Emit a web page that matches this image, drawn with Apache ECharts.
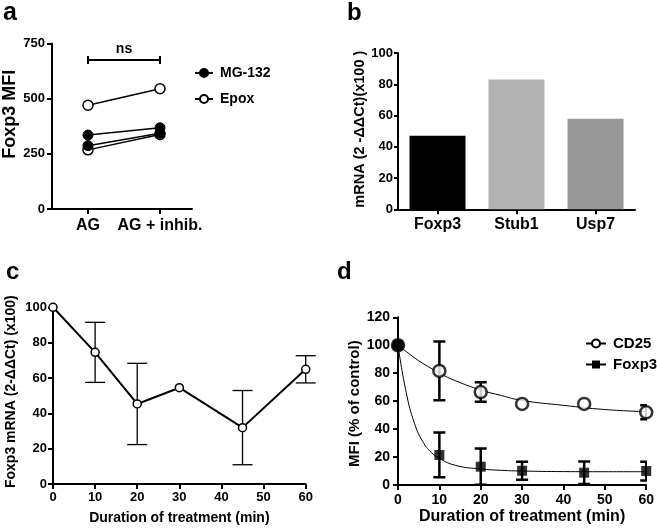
<!DOCTYPE html>
<html>
<head>
<meta charset="utf-8">
<script src="https://cdn.jsdelivr.net/npm/echarts@6/dist/echarts.min.js"></script>
<style>html,body{margin:0;padding:0;background:#fff}#c{width:657px;height:529px}</style>
</head>
<body>
<div id="c"></div>
<script>
// ---- Panel a ----
const aCategories = ['AG', 'AG + inhib.'];
const aMG1 = [335, 368];
const aMG2 = [287, 343];
const aEpox1 = [470, 545];
const aEpox2 = [268, 338];
const aBracket = [[0, 675, 1]];
const aBracketLabel = 'ns';
// ---- Panel b ----
const bCategories = ['Foxp3', 'Stub1', 'Usp7'];
const bValues = [47, 83, 58];
// ---- Panel c ----
const cTimes = [0, 10, 20, 30, 45, 60];
const cMeans = [100, 74.5, 45.3, 54.5, 31.9, 64.9];
const cErrs = [0, 17, 23, 0, 21, 7.7];
// ---- Panel d ----
const dTimes = [0, 10, 20, 30, 45, 60];
const dCD25 = [100, 81.6, 66.5, 58, 58, 52];
const dCD25Err = [0, 21, 7, 0, 0, 5];
const dFoxp3 = [100, 21.5, 13.1, 10.2, 8.8, 10];
const dFoxp3Err = [0, 16, 13, 6.5, 8, 6.7];
const dFitTimes = [0, 2, 4, 6, 8, 10, 14, 20, 25, 30, 40, 50, 60];
const dCD25Fit = [100, 95.5, 91, 87, 83.5, 80, 74.5, 68, 64, 60.5, 57, 54, 52.5];
const dFoxp3Fit = [100, 66, 44, 31, 23.5, 19, 14, 11.5, 10.5, 10, 9.6, 9.5, 9.5];

const FONT = "'Liberation Sans', Arial, sans-serif";
const AX = {color: '#000', width: 2};

function pairs(xs, ys) { return xs.map((x, i) => [x, ys[i]]); }
function triples(xs, ys, es) { return xs.map((x, i) => [x, ys[i], es[i]]); }

function errRender(capHalf, lw) {
  return function (params, api) {
    const x = api.value(0), y = api.value(1), e = api.value(2);
    if (!e) return null;
    const p1 = api.coord([x, y + e]);
    const p2 = api.coord([x, y - e]);
    const st = {stroke: '#000', lineWidth: lw};
    return {type: 'group', children: [
      {type: 'line', shape: {x1: p1[0], y1: p1[1], x2: p2[0], y2: p2[1]}, style: st},
      {type: 'line', shape: {x1: p1[0] - capHalf, y1: p1[1], x2: p1[0] + capHalf, y2: p1[1]}, style: st},
      {type: 'line', shape: {x1: p2[0] - capHalf, y1: p2[1], x2: p2[0] + capHalf, y2: p2[1]}, style: st}
    ]};
  };
}

function valueAxisY(gridIndex, min, max, interval, opts) {
  return Object.assign({
    type: 'value', gridIndex, min, max, interval,
    axisLine: {show: true, lineStyle: AX},
    axisTick: {show: true, inside: false, length: 5, lineStyle: AX},
    splitLine: {show: false},
    axisLabel: {color: '#000', fontFamily: FONT, fontWeight: 'bold', fontSize: 13, margin: 7},
    nameLocation: 'middle',
    nameTextStyle: {color: '#000', fontFamily: FONT, fontWeight: 'bold'}
  }, opts || {});
}

const option = {
  animation: false,
  backgroundColor: '#fff',
  textStyle: {fontFamily: FONT},
  grid: [
    {left: 52, top: 43.5, width: 144, height: 165.5},   // 0 a
    {left: 52, top: 43.5, width: 140, height: 165.5},   // 1 a axis line
    {left: 398, top: 53, width: 237, height: 156.3},    // 2 b
    {left: 53, top: 307.3, width: 252.7, height: 176.7},// 3 c
    {left: 398, top: 317.3, width: 248.7, height: 167.7}// 4 d
  ],
  xAxis: [
    {type: 'category', gridIndex: 0, data: aCategories, boundaryGap: true,
     axisLine: {show: false}, axisTick: {show: true, alignWithLabel: true, length: 5, lineStyle: AX},
     axisLabel: {color: '#000', fontFamily: FONT, fontWeight: 'bold', fontSize: 16, margin: 9, interval: 0, hideOverlap: false}},
    {type: 'value', gridIndex: 1, axisLine: {show: true, lineStyle: AX}, axisTick: {show: false},
     axisLabel: {show: false}, splitLine: {show: false}},
    {type: 'category', gridIndex: 2, data: bCategories, boundaryGap: true,
     axisLine: {show: true, lineStyle: AX}, axisTick: {show: true, alignWithLabel: true, length: 5, lineStyle: AX},
     axisLabel: {color: '#000', fontFamily: FONT, fontWeight: 'bold', fontSize: 16, margin: 7, interval: 0}},
    {type: 'value', gridIndex: 3, min: 0, max: 60, interval: 10,
     axisLine: {show: true, onZero: false, lineStyle: AX}, axisTick: {show: true, length: 5, lineStyle: AX},
     splitLine: {show: false},
     axisLabel: {color: '#000', fontFamily: FONT, fontWeight: 'bold', fontSize: 13, margin: 7},
     name: 'Duration of treatment (min)', nameLocation: 'middle', nameGap: 27,
     nameTextStyle: {color: '#000', fontFamily: FONT, fontWeight: 'bold', fontSize: 14}},
    {type: 'value', gridIndex: 4, min: 0, max: 60, interval: 10,
     axisLine: {show: true, onZero: false, lineStyle: AX}, axisTick: {show: true, length: 5, lineStyle: AX},
     splitLine: {show: false},
     axisLabel: {color: '#000', fontFamily: FONT, fontWeight: 'bold', fontSize: 14, margin: 8},
     name: 'Duration of treatment (min)', nameLocation: 'middle', nameGap: 24,
     nameTextStyle: {color: '#000', fontFamily: FONT, fontWeight: 'bold', fontSize: 16}}
  ],
  yAxis: [
    valueAxisY(0, 0, 750, 250, {name: 'Foxp3 MFI', nameGap: 33,
      nameTextStyle: {color: '#000', fontFamily: FONT, fontWeight: 'bold', fontSize: 18, padding: [0, 0, 0, 24]}}),
    {type: 'value', gridIndex: 1, show: false},
    valueAxisY(2, 0, 100, 20, {axisTick: {show: true, length: 4, lineStyle: AX},
      axisLabel: {color: '#000', fontFamily: FONT, fontWeight: 'bold', fontSize: 13, margin: 5},
      name: 'mRNA (2 -ΔΔCt)(x100 )', nameGap: 26,
      nameTextStyle: {color: '#000', fontFamily: FONT, fontWeight: 'bold', fontSize: 14.5, padding: [0, 0, 0, 4]}}),
    valueAxisY(3, 0, 100, 20, {axisLabel: {color: '#000', fontFamily: FONT, fontWeight: 'bold', fontSize: 13, margin: 6},
      name: 'Foxp3 mRNA (2-ΔΔCt) (x100)', nameGap: 35,
      nameTextStyle: {color: '#000', fontFamily: FONT, fontWeight: 'bold', fontSize: 14, padding: [0, 0, 0, 8]}}),
    valueAxisY(4, 0, 120, 20, {axisLabel: {color: '#000', fontFamily: FONT, fontWeight: 'bold', fontSize: 14, margin: 8},
      name: 'MFI (% of control)', nameGap: 30,
      nameTextStyle: {color: '#000', fontFamily: FONT, fontWeight: 'bold', fontSize: 15, padding: [0, 5, 0, 0]}})
  ],
  legend: [
    {orient: 'vertical', left: 189, top: 61, itemWidth: 18, itemHeight: 10, itemGap: 12,
     data: ['MG-132', 'Epox'], selectedMode: false,
     textStyle: {color: '#000', fontFamily: FONT, fontWeight: 'bold', fontSize: 14, padding: [0, 0, 0, 2]}},
    {orient: 'vertical', left: 580, top: 331, itemWidth: 20, itemHeight: 10, itemGap: 6,
     data: ['CD25', 'Foxp3'], selectedMode: false, lineStyle: {width: 2, color: '#000'},
     textStyle: {color: '#000', fontFamily: FONT, fontWeight: 'bold', fontSize: 15, padding: [0, 0, 0, 2]}}
  ],
  graphic: [
    {type: 'text', left: 3, top: 1, style: {text: 'a', font: 'bold 25px ' + FONT, fill: '#000'}},
    {type: 'text', left: 347, top: 1, style: {text: 'b', font: 'bold 24px ' + FONT, fill: '#000'}},
    {type: 'text', left: 6, top: 260, style: {text: 'c', font: 'bold 24px ' + FONT, fill: '#000'}},
    {type: 'text', left: 337, top: 260, style: {text: 'd', font: 'bold 24px ' + FONT, fill: '#000'}}
  ],
  series: [
    // panel a
    {name: 'Epox', type: 'line', xAxisIndex: 0, yAxisIndex: 0, data: aEpox1, symbol: 'circle', symbolSize: 10,
     lineStyle: {color: '#000', width: 1.5}, itemStyle: {color: '#fff', borderColor: '#000', borderWidth: 1.5}, z: 3},
    {name: 'Epox', type: 'line', xAxisIndex: 0, yAxisIndex: 0, data: aEpox2, symbol: 'circle', symbolSize: 10,
     lineStyle: {color: '#000', width: 1.5}, itemStyle: {color: '#fff', borderColor: '#000', borderWidth: 1.5}, z: 3},
    {name: 'MG-132', type: 'line', xAxisIndex: 0, yAxisIndex: 0, data: aMG1, symbol: 'circle', symbolSize: 10,
     lineStyle: {color: '#000', width: 1.5}, itemStyle: {color: '#000', borderColor: '#000', borderWidth: 1}, z: 4},
    {name: 'MG-132', type: 'line', xAxisIndex: 0, yAxisIndex: 0, data: aMG2, symbol: 'circle', symbolSize: 10,
     lineStyle: {color: '#000', width: 1.5}, itemStyle: {color: '#000', borderColor: '#000', borderWidth: 1}, z: 4},
    {type: 'custom', xAxisIndex: 0, yAxisIndex: 0, data: aBracket, silent: true,
     encode: {x: [0, 2], y: 1},
     renderItem: function (params, api) {
       const p1 = api.coord([api.value(0), api.value(1)]);
       const p2 = api.coord([api.value(2), api.value(1)]);
       const st = {stroke: '#000', lineWidth: 2};
       return {type: 'group', children: [
         {type: 'line', shape: {x1: p1[0], y1: p1[1], x2: p2[0], y2: p2[1]}, style: st},
         {type: 'line', shape: {x1: p1[0], y1: p1[1] - 4, x2: p1[0], y2: p1[1] + 4}, style: st},
         {type: 'line', shape: {x1: p2[0], y1: p2[1] - 4, x2: p2[0], y2: p2[1] + 4}, style: st},
         {type: 'text', x: (p1[0] + p2[0]) / 2, y: p1[1] - 4,
          style: {text: aBracketLabel, font: 'bold 14px ' + FONT, fill: '#000', align: 'center', verticalAlign: 'bottom'}}
       ]};
     }},
    // panel b
    {type: 'bar', xAxisIndex: 2, yAxisIndex: 2, barWidth: 56,
     data: bValues.map((v, i) => ({value: v, itemStyle: {color: ['#000000', '#b3b3b3', '#999999'][i]}}))},
    // panel c
    {type: 'custom', xAxisIndex: 3, yAxisIndex: 3, data: triples(cTimes, cMeans, cErrs), renderItem: errRender(10, 1.3), z: 2, silent: true},
    {name: 'Foxp3 mRNA', type: 'line', xAxisIndex: 3, yAxisIndex: 3, data: pairs(cTimes, cMeans),
     symbol: 'circle', symbolSize: 8, lineStyle: {color: '#000', width: 2},
     itemStyle: {color: '#fff', borderColor: '#000', borderWidth: 1.5}, z: 3},
    // panel d
    {type: 'custom', xAxisIndex: 4, yAxisIndex: 4, data: triples(dTimes, dCD25, dCD25Err), renderItem: errRender(6, 2.5), z: 2, clip: true, silent: true},
    {type: 'custom', xAxisIndex: 4, yAxisIndex: 4, data: triples(dTimes, dFoxp3, dFoxp3Err), renderItem: errRender(6, 2.5), z: 2, clip: true, silent: true},
    {name: 'CD25', type: 'line', xAxisIndex: 4, yAxisIndex: 4, data: pairs(dFitTimes, dCD25Fit), smooth: true,
     showSymbol: false, symbol: 'circle', symbolSize: 10, lineStyle: {color: '#000', width: 1},
     itemStyle: {color: '#fff', borderColor: '#000', borderWidth: 2.5}, z: 1},
    {name: 'Foxp3', type: 'line', xAxisIndex: 4, yAxisIndex: 4, data: pairs(dFitTimes, dFoxp3Fit), smooth: true,
     showSymbol: false, symbol: 'rect', symbolSize: 10, lineStyle: {color: '#000', width: 1},
     itemStyle: {color: '#000', borderColor: '#000', borderWidth: 0}, z: 1},
    {name: 'Foxp3 points', type: 'scatter', xAxisIndex: 4, yAxisIndex: 4, data: pairs(dTimes, dFoxp3),
     symbol: 'rect', symbolSize: 10, itemStyle: {color: '#000'}, z: 4},
    {name: 'CD25 points', type: 'scatter', xAxisIndex: 4, yAxisIndex: 4,
     data: pairs(dTimes, dCD25).map((p, i) => i === 0 ? {value: p, itemStyle: {color: '#000'}} : p),
     symbol: 'circle', symbolSize: 12, itemStyle: {color: '#fff', borderColor: '#000', borderWidth: 2.5}, z: 5}
  ]
};

const chart = echarts.init(document.getElementById('c'), null, {renderer: 'canvas'});
chart.setOption(option);
</script>
</body>
</html>
